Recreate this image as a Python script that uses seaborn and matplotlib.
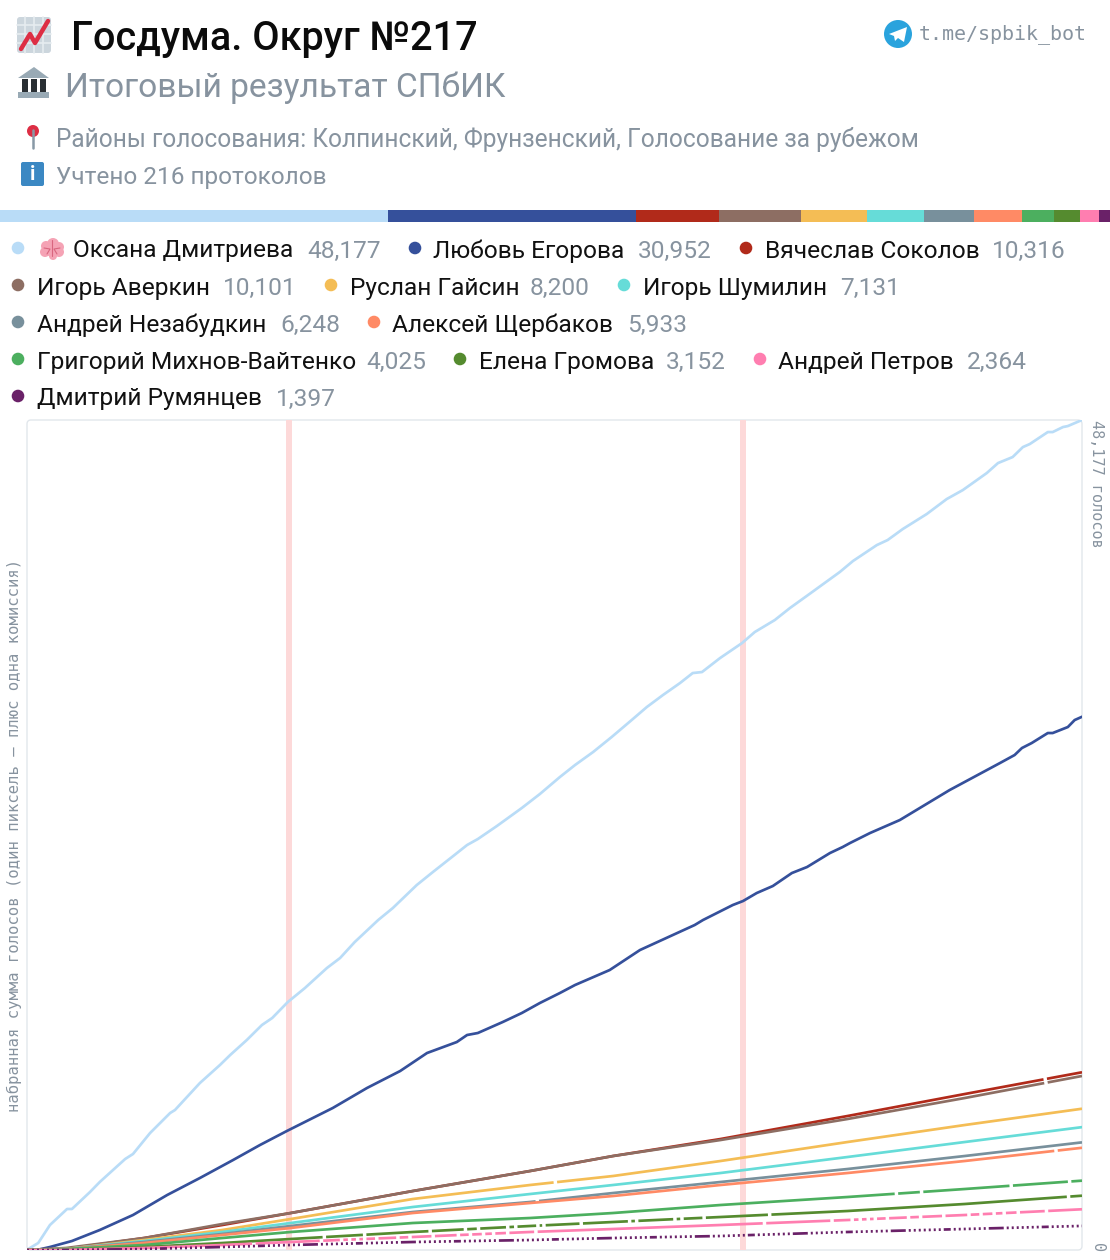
import matplotlib.pyplot as plt
from matplotlib.patches import Circle, FancyBboxPatch, Polygon, Rectangle
import numpy as np
import pandas as pd
import seaborn as sns

candidates = [
    "Оксана Дмитриева", "Любовь Егорова", "Вячеслав Соколов", "Игорь Аверкин",
    "Руслан Гайсин", "Игорь Шумилин", "Андрей Незабудкин", "Алексей Щербаков",
    "Григорий Михнов-Вайтенко", "Елена Громова", "Андрей Петров", "Дмитрий Румянцев",
]
totals = [48177, 30952, 10316, 10101, 8200, 7131, 6248, 5933, 4025, 3152, 2364, 1397]
colors = [
    "#b9dcf7", "#35509b", "#b12a1a", "#8d6e63", "#f4bd55", "#66dcd8",
    "#78909c", "#ff8a65", "#4caf5f", "#558b2f", "#ff7eb0", "#6a2168",
]

band_protocols = [53.6, 146.6]

# the two big curves are read more often, they wobble
dmitrieva_x = [0, 0.6, 2.3, 4.7, 8.2, 9.2, 12.9, 14.9, 20.1, 21.7, 25.2, 29.3, 30.3, 35.4,
               39.5, 41.6, 45.0, 48.1, 50.2, 53.4, 56.9, 61.4, 64.1, 67.1, 71.9, 74.9, 79.8,
               83.1, 87.0, 90.1, 92.3, 96.2, 101.3, 105.0, 109.1, 112.2, 115.9, 119.7, 123.8,
               126.9, 130.2, 133.7, 136.3, 138.2, 141.9, 146.4, 149.0, 153.1, 156.2, 159.9,
               166.4, 169.1, 174.0, 176.2, 179.3, 184.2, 188.3, 191.6, 196.5, 198.8, 201.8,
               203.9, 205.3, 209.0, 210.0, 212.1, 213.1, 216]
dmitrieva = [0, 116, 406, 1451, 2380, 2380, 3366, 3947, 5282, 5572, 6791, 7951, 8126, 9693,
             10737, 11318, 12188, 13059, 13465, 14394, 15206, 16367, 16948, 17876, 19153,
             19850, 21185, 21939, 22810, 23506, 23854, 24609, 25654, 26466, 27453, 28149,
             28904, 29775, 30761, 31516, 32212, 32909, 33489, 33547, 34360, 35230, 35869,
             36565, 37262, 38016, 39351, 39990, 40918, 41208, 41847, 42717, 43588, 44110,
             45097, 45677, 46026, 46606, 46780, 47477, 47477, 47767, 47825, 48177]
egorova_x = [0, 2.0, 4.7, 9.2, 14.9, 21.7, 28.7, 35.4, 42.2, 47.7, 53.2, 62.6, 69.6, 76.4,
             81.9, 88.0, 90.1, 92.3, 97.4, 101.3, 105.0, 109.1, 112.2, 119.3, 125.5, 136.7,
             138.4, 144.5, 146.6, 149.4, 152.7, 156.6, 159.7, 164.4, 167.0, 168.5, 172.6,
             178.7, 188.9, 199.2, 202.2, 203.7, 205.7, 209.0, 210.0, 213.1, 214.5, 216]
egorova = [0, 0, 174, 522, 1161, 2031, 3192, 4179, 5224, 6094, 6907, 8242, 9402, 10389,
           11434, 12072, 12479, 12595, 13233, 13755, 14336, 14916, 15381, 16251, 17412,
           18863, 19153, 20024, 20256, 20720, 21127, 21881, 22229, 23042, 23390, 23622,
           24203, 24957, 26698, 28265, 28730, 29136, 29426, 30007, 30007, 30355, 30761, 30952]

# the small curves are almost straight
coarse_x = [0, 8, 24, 40, 54, 79, 103, 120, 142, 168, 192, 216]
sokolov = [0, 58, 696, 1451, 2147, 3424, 4585, 5456, 6442, 7778, 9054, 10316]
averkin = [0, 116, 696, 1509, 2147, 3424, 4585, 5456, 6384, 7604, 8822, 10101]
gaisin = [0, 58, 580, 1161, 1799, 2960, 3773, 4295, 5166, 6268, 7255, 8200]
shumilin = [0, 58, 522, 1045, 1567, 2496, 3250, 3773, 4469, 5398, 6268, 7131]
nezabudkin = [0, 58, 464, 929, 1393, 2206, 2786, 3308, 3947, 4701, 5456, 6248]
shcherbakov = [0, 58, 406, 871, 1277, 2147, 2728, 3134, 3773, 4469, 5166, 5933]
mikhnov = [0, 58, 290, 696, 1045, 1567, 1857, 2147, 2612, 3076, 3540, 4025]
gromova = [0, 0, 174, 406, 638, 1045, 1393, 1625, 1915, 2264, 2670, 3152]
petrov = [0, 0, 116, 290, 464, 755, 1045, 1219, 1451, 1741, 2031, 2364]
rumyantsev = [0, 0, 58, 174, 290, 464, 580, 696, 813, 1045, 1219, 1397]

curve_x = [dmitrieva_x, egorova_x] + [coarse_x] * 10
curves = [dmitrieva, egorova, sokolov, averkin, gaisin, shumilin,
          nezabudkin, shcherbakov, mikhnov, gromova, petrov, rumyantsev]

# legend rows: (row y, dot x, name x, value x)
legend_layout = [
    (250, 18, 73, 307), (250, 415, 433, 638), (250, 746, 765, 992),
    (287, 18, 37, 223), (287, 331, 350, 530), (287, 624, 643, 840),
    (324, 18, 37, 280), (324, 374, 392, 627),
    (361, 18, 37, 366), (361, 460, 479, 666), (361, 760, 778, 967),
    (398, 18, 37, 276),
]

TEXT = "Roboto"
MONO = "DejaVu Sans Mono"
GREY = "#87939f"
LINE_PX = 2.7
PLOT_LEFT = 27
PLOT_RIGHT = 1082


def px(size):
    # figure is 100 dpi, sizes below are in screen pixels
    return size * 0.72


def broken_line(breaks, gap=3.5):
    # solid line with short gaps at the given screen x positions
    pattern = []
    last = PLOT_LEFT
    for x in breaks + [PLOT_RIGHT + 40]:
        pattern += [(x - last) * 1.01 / LINE_PX, gap / LINE_PX]
        last = x + gap
    return (0, tuple(pattern))


def dotted_line(runs):
    # dots every 5 px, with some short solid runs between them
    pattern = []
    x = PLOT_LEFT
    for start, end in runs + [(PLOT_RIGHT + 40, PLOT_RIGHT + 41)]:
        while x + 5 <= start:
            pattern += [2 / LINE_PX, 3 / LINE_PX]
            x += 5
        pattern += [(end - start) / LINE_PX, 3 / LINE_PX]
        x = end + 3
    return (0, tuple(pattern))


line_styles = [
    "-", "-",
    broken_line([1048]),
    broken_line([1048]),
    broken_line([553]),
    "-",
    broken_line([533]),
    broken_line([1049]),
    broken_line([888, 913, 1002, 1060]),
    broken_line([320, 360, 425, 460, 473, 502, 510, 532, 538, 575, 623, 630, 668, 675, 697,
                 762, 773, 795, 825, 845, 865, 893, 922]),
    broken_line([250, 317, 337, 345, 353, 360, 372, 393, 405, 428, 453, 465, 478, 488, 502,
                 530, 577, 595, 613, 620, 633, 642, 660, 680, 688, 708, 717, 727, 737, 750,
                 760, 800, 808, 858, 868, 880, 898, 908, 918, 927, 947, 975, 985, 1005, 1015,
                 1030, 1058]),
    dotted_line([(65, 72), (110, 125), (165, 190), (338, 345), (378, 385), (510, 517),
                 (560, 565), (603, 608), (652, 662), (745, 760), (823, 828), (857, 863),
                 (895, 902), (1018, 1023), (1028, 1038), (1072, 1078)]),
]


def draw_icons(ax):
    # chart emoji
    ax.add_patch(FancyBboxPatch((17, 17), 34, 36, boxstyle="round,pad=0,rounding_size=3",
                                fc="#ccd6dd", ec="none"))
    for pos in [25, 34, 43]:
        ax.plot([pos, pos], [17, 53], color="#e6ecf0", lw=1.2)
        ax.plot([17, 51], [pos, pos], color="#e6ecf0", lw=1.2)
    ax.plot([21, 30, 35, 48], [49, 34, 43, 21], color="#dd2e44", lw=3.2)
    # bank emoji
    ax.add_patch(Polygon([[18, 78], [34, 67], [49, 78]], fc="#99aab5", ec="none"))
    ax.add_patch(Rectangle((18, 92), 31, 6, fc="#99aab5", ec="none"))
    for pos in [22, 31, 40]:
        ax.add_patch(Rectangle((pos, 79), 6, 13, fc="#292f33", ec="none"))
    # pin emoji
    ax.plot([33, 33], [130, 148], color="#8899a6", lw=1.8)
    ax.add_patch(Circle((33, 131), 6, fc="#dd2e44", ec="none"))
    # info emoji
    ax.add_patch(FancyBboxPatch((21, 162), 23, 24, boxstyle="round,pad=0,rounding_size=2",
                                fc="#3b88c3", ec="none"))
    ax.text(32.5, 174, "i", color="white", fontsize=px(20), family=TEXT,
            weight="bold", ha="center", va="center")
    # telegram logo
    ax.add_patch(Circle((898, 34), 14, fc="#2aa3dd", ec="none"))
    ax.add_patch(Polygon([[889, 34], [907, 27], [904, 42], [898, 38], [895, 41], [894, 36]],
                         fc="white", ec="none"))
    # brain emoji
    for x, y, r in [(46, 246, 5), (53, 244, 6), (59, 247, 5), (45, 252, 5),
                    (52, 251, 6), (59, 252, 5), (53, 256, 4)]:
        ax.add_patch(Circle((x, y), r, fc="#f5a3b5", ec="none"))
    ax.plot([52, 52], [240, 256], color="#d9667f", lw=0.8)
    ax.plot([44, 50, 47], [248, 249, 254], color="#d9667f", lw=0.8)
    ax.plot([60, 54, 57], [248, 249, 254], color="#d9667f", lw=0.8)


def draw_header(ax):
    ax.text(71, 39.5, "Госдума. Округ №217", fontsize=px(39.6), family=TEXT,
            weight="medium", color="#0b0b0b", va="center")
    ax.text(65, 88, "Итоговый результат СПбИК", fontsize=px(33.5), family=TEXT,
            color=GREY, va="center")
    ax.text(56, 140, "Районы голосования: Колпинский, Фрунзенский, Голосование за рубежом",
            fontsize=px(24.55), family=TEXT, color=GREY, va="center")
    ax.text(56, 177.5, "Учтено 216 протоколов", fontsize=px(24.4), family=TEXT,
            color=GREY, va="center")
    ax.text(919, 34, "t.me/spbik_bot", fontsize=px(20), family=MONO, color=GREY, va="center")


def draw_legend(ax):
    for name, total, color, row in zip(candidates, totals, colors, legend_layout):
        y, dot_x, name_x, value_x = row
        ax.add_patch(Circle((dot_x, y - 2), 6.3, fc=color, ec="none"))
        ax.text(name_x, y + 1, name, fontsize=px(24.5), family=TEXT, color="#111111", va="center")
        ax.text(value_x, y + 1, f"{total:,}", fontsize=px(24.5), family=TEXT, color=GREY, va="center")


def draw_share_bar(fig):
    bar_ax = fig.add_axes([0, 1 - 222 / 1260, 1, 12 / 1260])
    lefts = np.cumsum([0] + totals[:-1])
    bar_ax.barh([0] * len(totals), totals, left=lefts, height=1, color=colors, linewidth=0)
    bar_ax.set_xlim(0, sum(totals))
    bar_ax.set_ylim(-0.5, 0.5)
    bar_ax.axis("off")


def draw_curves(fig):
    ax = fig.add_axes([PLOT_LEFT / 1110, 10 / 1260, (PLOT_RIGHT - PLOT_LEFT) / 1110, 830 / 1260])
    ax.patch.set_alpha(0)
    for band in band_protocols:
        ax.axvline(band, color="#fdd9d9", lw=px(6), zorder=0)

    for i, name in enumerate(candidates):
        df = pd.DataFrame({"protocols": curve_x[i], "votes": curves[i]})
        sns.lineplot(data=df, x="protocols", y="votes", color=colors[i], lw=px(LINE_PX),
                     linestyle=line_styles[i], estimator=None, errorbar=None, ax=ax)

    ax.set_xlim(0, 216)
    ax.set_ylim(0, totals[0])
    ax.set_xlabel("")
    ax.set_ylabel("")
    ax.set_xticks([])
    ax.set_yticks([])
    for spine in ax.spines.values():
        spine.set_visible(False)


def main():
    sns.set_theme(style="white")
    fig = plt.figure(figsize=(11.1, 12.6), dpi=100)

    overlay = fig.add_axes([0, 0, 1, 1])
    overlay.set_xlim(0, 1110)
    overlay.set_ylim(1260, 0)
    overlay.axis("off")

    draw_icons(overlay)
    draw_header(overlay)
    draw_legend(overlay)

    # chart frame
    overlay.add_patch(FancyBboxPatch((PLOT_LEFT, 420), PLOT_RIGHT - PLOT_LEFT, 830,
                                     boxstyle="round,pad=0,rounding_size=4",
                                     fc="white", ec="#e2e7ec", lw=1))
    overlay.text(14, 835, "набранная сумма голосов (один пиксель – плюс одна комиссия)",
                 fontsize=px(15.5), family=MONO, color=GREY, rotation=90,
                 ha="center", va="center")
    overlay.text(1097, 420, f"{totals[0]:,} голосов", fontsize=px(15.1), family=MONO,
                 color=GREY, rotation=270, ha="center", va="top")
    overlay.text(1097, 1252, "0", fontsize=px(15.1), family=MONO, color=GREY,
                 rotation=270, ha="center", va="bottom")

    draw_share_bar(fig)
    draw_curves(fig)

    fig.savefig("out.png", dpi=100, facecolor="white")


if __name__ == "__main__":
    main()
